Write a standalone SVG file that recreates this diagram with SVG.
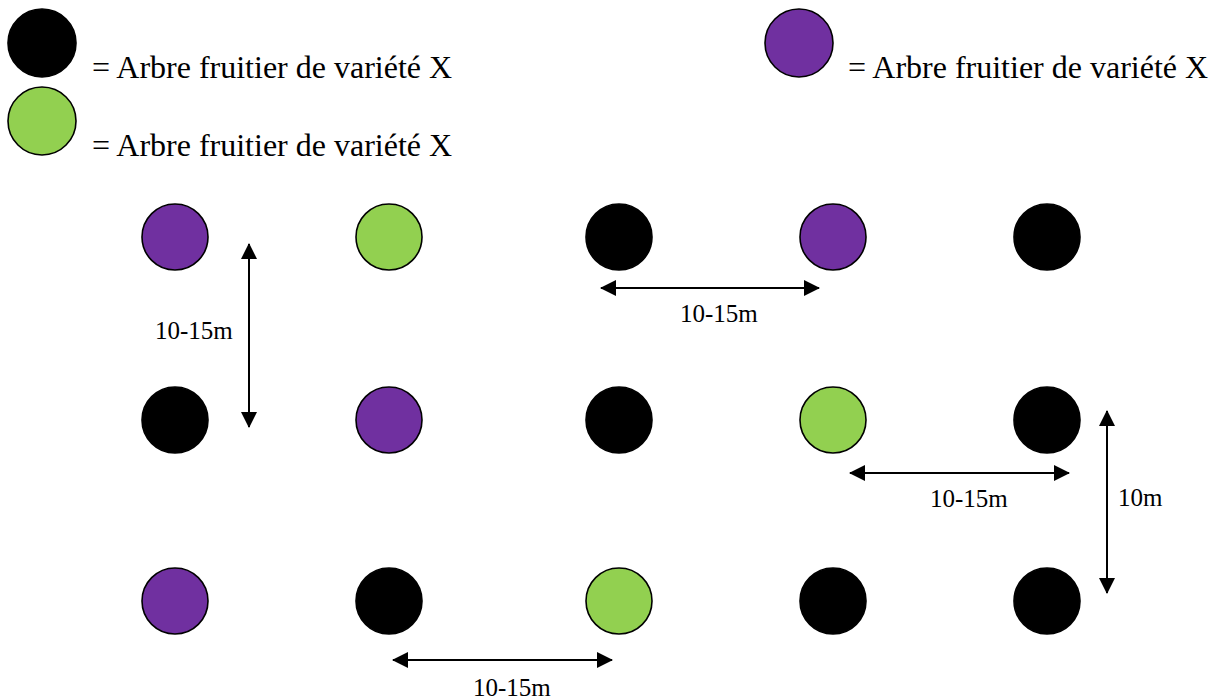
<svg xmlns="http://www.w3.org/2000/svg" width="1221" height="699" viewBox="0 0 1221 699">
  <style>
    .tree { stroke: #000; stroke-width: 1.6; }
    .black { fill: #000; }
    .purple { fill: #7030A0; }
    .green { fill: #92D050; }
    .legend { font-family: "Liberation Serif", "Times New Roman", serif; font-size: 32px; fill: #000; }
    .lbl { font-family: "Liberation Serif", "Times New Roman", serif; font-size: 25px; fill: #000; }
    .dim { stroke: #000; stroke-width: 2; fill: none; marker-start: url(#ah); marker-end: url(#ah); }
  </style>
  <defs>
    <marker id="ah" markerUnits="userSpaceOnUse" markerWidth="16" markerHeight="16" refX="15" refY="8" orient="auto-start-reverse" viewBox="0 0 16 16">
      <path d="M0,0 L16,8 L0,16 z" fill="#000"/>
    </marker>
  </defs>
  <rect width="1221" height="699" fill="#fff"/>

  <g id="legend-black">
    <circle class="tree black" cx="42" cy="43" r="34"/>
    <text class="legend" x="92" y="78">= Arbre fruitier de variété X</text>
  </g>
  <g id="legend-green">
    <circle class="tree green" cx="42" cy="121" r="34"/>
    <text class="legend" x="92" y="156">= Arbre fruitier de variété X</text>
  </g>
  <g id="legend-purple">
    <circle class="tree purple" cx="799" cy="43" r="34"/>
    <text class="legend" x="848" y="78">= Arbre fruitier de variété X</text>
  </g>

  <g id="r1c1"><circle class="tree purple" cx="175" cy="237" r="33"/></g>
  <g id="r1c2"><circle class="tree green" cx="389" cy="237" r="33"/></g>
  <g id="r1c3"><circle class="tree black" cx="619" cy="237" r="33"/></g>
  <g id="r1c4"><circle class="tree purple" cx="833" cy="237" r="33"/></g>
  <g id="r1c5"><circle class="tree black" cx="1047" cy="237" r="33"/></g>

  <g id="r2c1"><circle class="tree black" cx="175" cy="420" r="33"/></g>
  <g id="r2c2"><circle class="tree purple" cx="389" cy="420" r="33"/></g>
  <g id="r2c3"><circle class="tree black" cx="619" cy="420" r="33"/></g>
  <g id="r2c4"><circle class="tree green" cx="833" cy="420" r="33"/></g>
  <g id="r2c5"><circle class="tree black" cx="1047" cy="420" r="33"/></g>

  <g id="r3c1"><circle class="tree purple" cx="175" cy="601" r="33"/></g>
  <g id="r3c2"><circle class="tree black" cx="389" cy="601" r="33"/></g>
  <g id="r3c3"><circle class="tree green" cx="619" cy="601" r="33"/></g>
  <g id="r3c4"><circle class="tree black" cx="833" cy="601" r="33"/></g>
  <g id="r3c5"><circle class="tree black" cx="1047" cy="601" r="33"/></g>

  <g id="connectors">
    <line class="dim" x1="249" y1="244" x2="249" y2="427"/>
    <line class="dim" x1="601" y1="288" x2="819" y2="288"/>
    <line class="dim" x1="850" y1="473" x2="1069" y2="473"/>
    <line class="dim" x1="1107" y1="411" x2="1107" y2="593"/>
    <line class="dim" x1="393" y1="660" x2="612" y2="660"/>
  </g>

  <g id="labels">
    <text class="lbl" x="155" y="339">10-15m</text>
    <text class="lbl" x="680" y="322">10-15m</text>
    <text class="lbl" x="930" y="507">10-15m</text>
    <text class="lbl" x="1118" y="506">10m</text>
    <text class="lbl" x="473" y="696">10-15m</text>
  </g>
</svg>
